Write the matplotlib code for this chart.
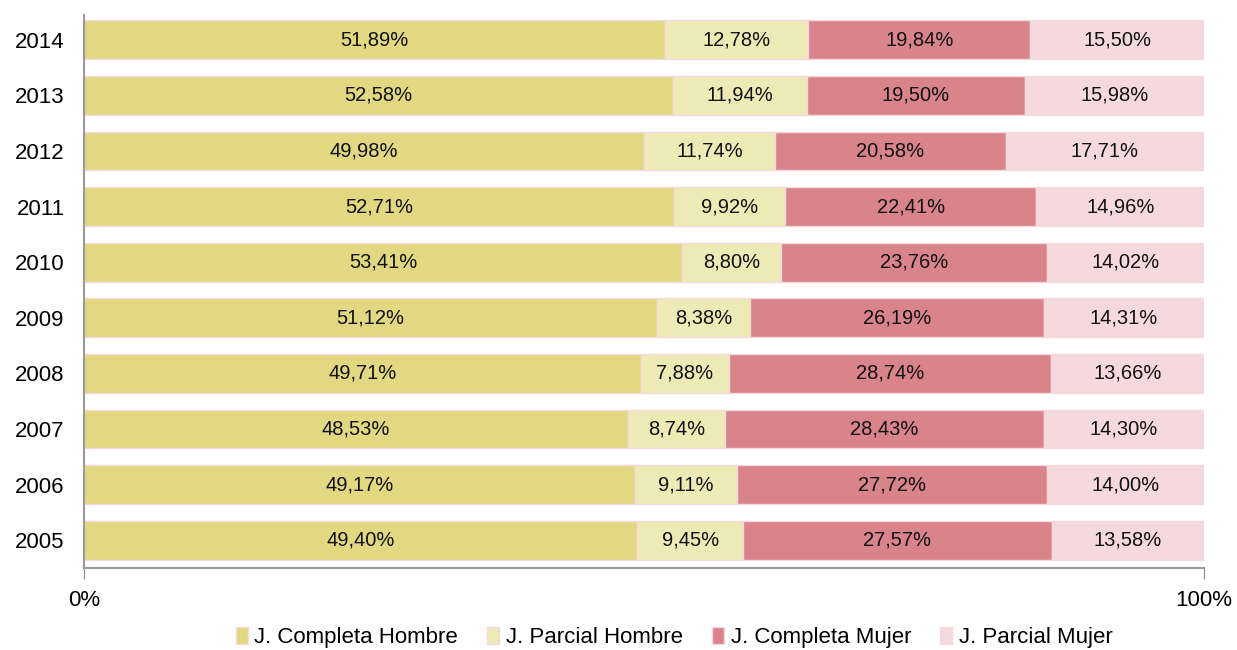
import matplotlib
matplotlib.use("Agg")
import matplotlib.pyplot as plt
import numpy as np

plt.rcParams['font.family'] = ['Liberation Sans', 'DejaVu Sans']

years = ["2005", "2006", "2007", "2008", "2009", "2010", "2011", "2012", "2013", "2014"]
completa_hombre = [49.40, 49.17, 48.53, 49.71, 51.12, 53.41, 52.71, 49.98, 52.58, 51.89]
parcial_hombre = [9.45, 9.11, 8.74, 7.88, 8.38, 8.80, 9.92, 11.74, 11.94, 12.78]
completa_mujer = [27.57, 27.72, 28.43, 28.74, 26.19, 23.76, 22.41, 20.58, 19.50, 19.84]
parcial_mujer = [13.58, 14.00, 14.30, 13.66, 14.31, 14.02, 14.96, 17.71, 15.98, 15.50]
series_names = ["J. Completa Hombre", "J. Parcial Hombre", "J. Completa Mujer", "J. Parcial Mujer"]
colors = ["#E2D881", "#EEEAB6", "#D9838A", "#F5D9DD"]

fig = plt.figure(figsize=(12.37, 6.5), dpi=100)
ax = fig.add_axes([0.0679, 0.1262, 0.9054, 0.851])

data = [completa_hombre, parcial_hombre, completa_mujer, parcial_mujer]
y = np.arange(len(years))
left = np.zeros(len(years))
total = np.array([sum(d[i] for d in data) for i in range(len(years))])
handles = []
for vals, name, c in zip(data, series_names, colors):
    vals = np.array(vals)
    frac = vals / total
    b = ax.barh(y, frac, left=left, height=0.7, color=c, edgecolor="#F5D9DD", linewidth=1, label=name)
    handles.append(b)
    for yi, l, f, v in zip(y, left, frac, vals):
        ax.text(l + f / 2, yi, f"{v:.2f}%".replace(".", ","), ha="center", va="center",
                fontsize=14.5, color="#111111")
    left = left + frac

ax.set_xlim(0, 1)
ax.set_ylim(-0.5, 9.45)
ax.set_yticks(y)
ax.set_yticklabels(years, fontsize=16)
ax.set_xticks([0, 1])
ax.set_xticklabels(["0%", "100%"], fontsize=16)
ax.tick_params(axis="y", length=0, pad=14)
ax.tick_params(axis="x", length=8, color="#888888", pad=8, direction="out")
for s in ["top", "right"]:
    ax.spines[s].set_visible(False)
for s in ["left", "bottom"]:
    ax.spines[s].set_color("#999999")
    ax.spines[s].set_linewidth(1.5)
ax.spines["left"].set_bounds(-0.5, 9.45)

leg = fig.legend(handles=handles, labels=series_names, loc="center", bbox_to_anchor=(0.545, 0.019),
                 ncol=4, frameon=False, fontsize=16, handlelength=0.55, handleheight=0.8,
                 handletextpad=0.3, columnspacing=1.3)

fig.savefig("out.png", dpi=100)
